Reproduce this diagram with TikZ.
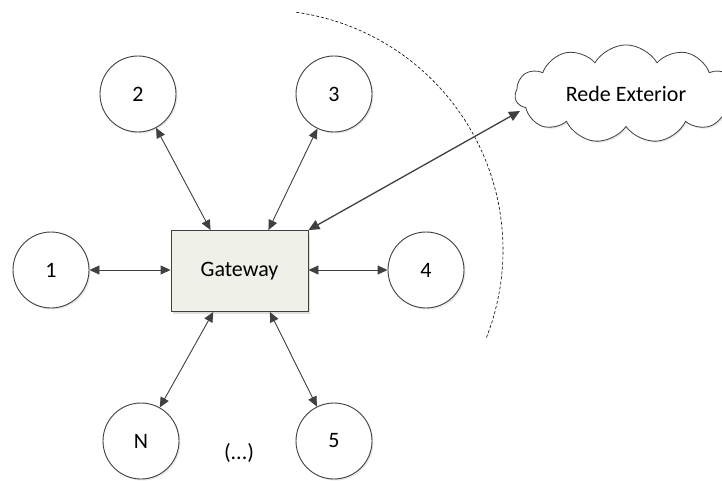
\documentclass[tikz,border=0pt]{standalone}
\usepackage{fontspec}
\setmainfont{Carlito}
\usetikzlibrary{arrows.meta,shapes.symbols,shadows,calc}
\definecolor{linegray}{HTML}{404040}
\definecolor{gwfill}{HTML}{EFF1E8}
\tikzset{
  every node/.style={font=\fontsize{22}{26}\selectfont},
  nodecirc/.style={circle,draw=linegray,line width=0.9pt,fill=white,minimum size=76pt,inner sep=0pt,
    drop shadow={opacity=0.18,shadow xshift=1.5pt,shadow yshift=-1.5pt}},
  gwbox/.style={rectangle,draw=linegray,line width=0.9pt,fill=gwfill,minimum width=137pt,minimum height=81pt,
    drop shadow={opacity=0.25,shadow xshift=2pt,shadow yshift=-2pt}},
  extcloud/.style={cloud,cloud puffs=11,cloud puff arc=120,aspect=2.5,draw=linegray,line width=0.8pt,fill=white,
    minimum width=222pt,minimum height=88pt,
    drop shadow={opacity=0.18,shadow xshift=1.5pt,shadow yshift=-1.5pt}},
  link/.style={line width=0.9pt,draw=linegray,{Triangle[length=10pt,width=9pt]}-{Triangle[length=10pt,width=9pt]}},
  extlink/.style={line width=1.3pt,draw=linegray,{Triangle[length=11pt,width=10pt]}-{Triangle[length=11pt,width=10pt]}},
  boundary/.style={dashed,dash pattern=on 3pt off 2pt,line width=0.6pt,black}
}
\begin{document}
\begin{tikzpicture}[x=1pt,y=-1pt]
\useasboundingbox (0,0) rectangle (722,481);
\node[gwbox] (gw) at (239.5,271) {Gateway};
\node[nodecirc] (c1) at (51,270) {1};
\node[nodecirc] (c2) at (138,94) {2};
\node[nodecirc] (c3) at (334,94) {3};
\node[nodecirc] (c4) at (426,270) {4};
\node[nodecirc] (cN) at (141,441) {N};
\node[nodecirc] (c5) at (334,441) {5};
\node[extcloud] (ext) at (626,94) {Rede Exterior};
\node (dots) at (239,453) {(...)};
\coordinate (arcC) at (263,250);
\draw[boundary] ([shift={(82:240pt)}]arcC) arc[start angle=82,end angle=-21.5,radius=240pt];
% connectors
\draw[link] (c1) -- (gw.west |- c1);
\draw[link] (c4) -- (gw.east |- c4);
\coordinate (gwt1) at ($(gw.north west)!0.29!(gw.north east)$);
\coordinate (gwt2) at ($(gw.north west)!0.71!(gw.north east)$);
\coordinate (gwb1) at ($(gw.south west)!0.31!(gw.south east)$);
\coordinate (gwb2) at ($(gw.south west)!0.72!(gw.south east)$);
\draw[link] (gwt1) -- (c2);
\draw[link] (gwt2) -- (c3);
\draw[link] (gwb1) -- (cN);
\draw[link] (gwb2) -- (c5);
\coordinate (extend) at (520,111);
\draw[extlink] (gw.north east) -- (extend);
\end{tikzpicture}
\end{document}
